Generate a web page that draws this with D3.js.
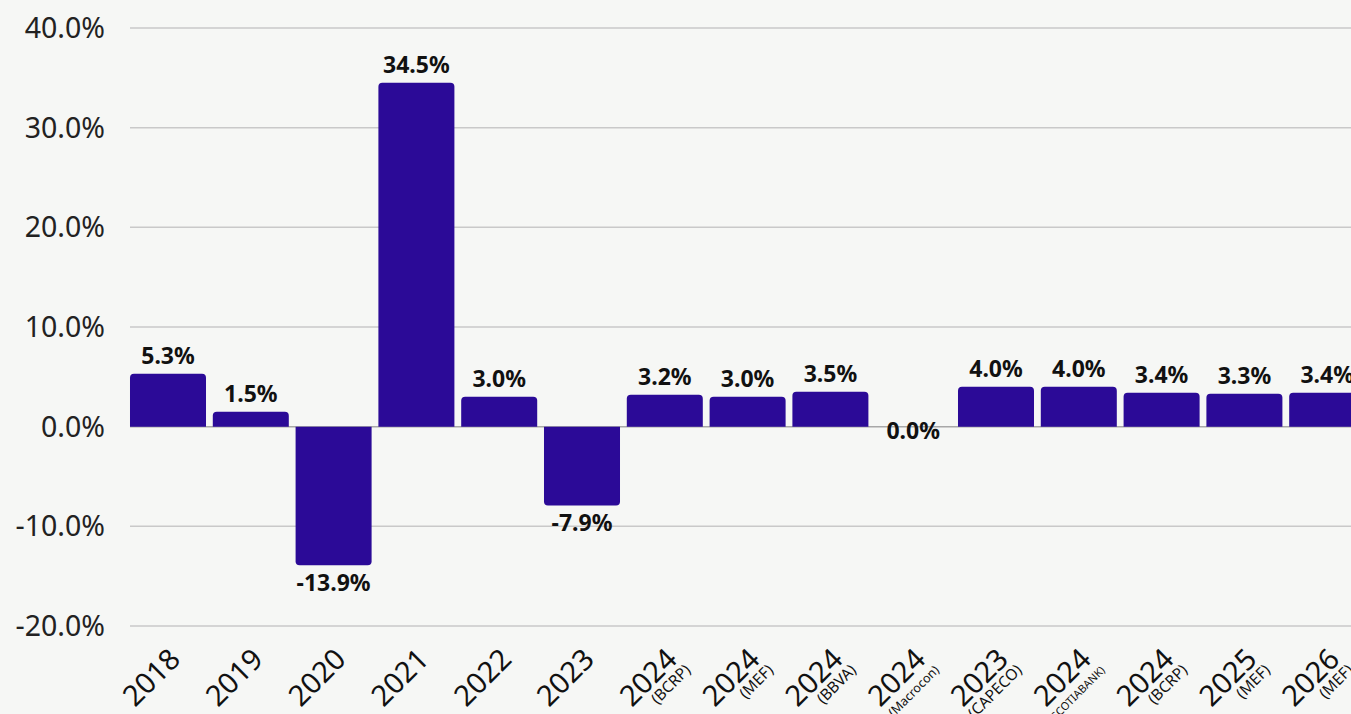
<!DOCTYPE html>
<html>
<head>
<meta charset="utf-8">
<script src="https://cdn.jsdelivr.net/npm/d3@7"></script>
<style>
  html, body { margin: 0; padding: 0; background: #f6f7f5; overflow: hidden; }
  svg { display: block; font-family: "Noto Sans", "Open Sans", sans-serif; }
  .tick-label { font-size: 28.5px; fill: #222; }
  .vlabel { font-size: 23px; font-weight: 700; fill: #111; }
  .xlabel { font-size: 29px; fill: #111; }
  .xsub { fill: #111; }
</style>
</head>
<body>
<svg id="chart"></svg>
<script>
const years   = ["2018", "2019", "2020", "2021", "2022", "2023", "2024", "2024", "2024", "2024", "2023", "2024", "2024", "2025", "2026"];
const sources = ["", "", "", "", "", "", "(BCRP)", "(MEF)", "(BBVA)", "(Macrocon)", "(CAPECO)", "(SCOTIABANK)", "(BCRP)", "(MEF)", "(MEF)"];
const values  = [5.3, 1.5, -13.9, 34.5, 3.0, -7.9, 3.2, 3.0, 3.5, 0.0, 4.0, 4.0, 3.4, 3.3, 3.4];
const yTicks  = [-20, -10, 0, 10, 20, 30, 40];

const data = years.map((y, i) => ({ id: i, year: y, source: sources[i], value: values[i] }));

const W = 1351, H = 714;
const svg = d3.select("#chart").attr("width", W).attr("height", H);

svg.append("rect").attr("width", W).attr("height", H).attr("fill", "#f6f7f5");

const x = d3.scaleBand()
    .domain(data.map(d => d.id))
    .range([126.6, 126.6 + 15 * 82.8])
    .paddingInner(0.082)
    .paddingOuter(0.041);

const y = d3.scaleLinear()
    .domain([-20, 40])
    .range([626, 28]);

// plain hyphen for negatives, as in the source
const pct = v => v.toFixed(1) + "%";

// grid
svg.append("g").selectAll("line")
    .data(yTicks).enter().append("line")
    .attr("x1", 130).attr("x2", W)
    .attr("y1", d => y(d)).attr("y2", d => y(d))
    .attr("stroke", d => d === 0 ? "#a8a8a8" : "#c9c9c9")
    .attr("stroke-width", 1.5);

// y tick labels
svg.append("g").selectAll("text")
    .data(yTicks).enter().append("text")
    .attr("class", "tick-label")
    .attr("x", 105).attr("y", d => y(d))
    .attr("dy", "0.35em")
    .attr("text-anchor", "end")
    .text(pct);

// bars, rounded on the far end only
const r = 4;
function barPath(d) {
    const x0 = x(d.id), w = x.bandwidth();
    const y0 = y(0), y1 = y(d.value);
    if (d.value === 0) return "";
    if (d.value > 0) {
        return `M${x0},${y0}V${y1 + r}Q${x0},${y1} ${x0 + r},${y1}H${x0 + w - r}Q${x0 + w},${y1} ${x0 + w},${y1 + r}V${y0}Z`;
    }
    return `M${x0},${y0}V${y1 - r}Q${x0},${y1} ${x0 + r},${y1}H${x0 + w - r}Q${x0 + w},${y1} ${x0 + w},${y1 - r}V${y0}Z`;
}

svg.append("g").selectAll("path")
    .data(data).enter().append("path")
    .attr("d", barPath)
    .attr("fill", "#2b0a97");

// value labels
svg.append("g").selectAll("text")
    .data(data).enter().append("text")
    .attr("class", "vlabel")
    .attr("x", d => x(d.id) + x.bandwidth() / 2)
    .attr("y", d => d.value > 0 ? y(d.value) - 10 : d.value < 0 ? y(d.value) + 18 : y(0) + 4)
    .attr("dy", d => d.value > 0 ? "0" : "0.35em")
    .attr("text-anchor", "middle")
    .text(d => pct(d.value));

// x labels, rotated
const subSize = { "(Macrocon)": 12.5, "(SCOTIABANK)": 11 };
const xl = svg.append("g").selectAll("g")
    .data(data).enter().append("g")
    .attr("transform", d => `translate(${x(d.id) + x.bandwidth() / 2 + 14},${661}) rotate(-45)`);

xl.append("text")
    .attr("class", "xlabel")
    .attr("text-anchor", "end")
    .text(d => d.year);

xl.filter(d => d.source).append("text")
    .attr("class", "xsub")
    .attr("x", 2)
    .attr("y", 16)
    .attr("text-anchor", "end")
    .attr("font-size", d => (subSize[d.source] || 15.5) + "px")
    .text(d => d.source);
</script>
</body>
</html>
